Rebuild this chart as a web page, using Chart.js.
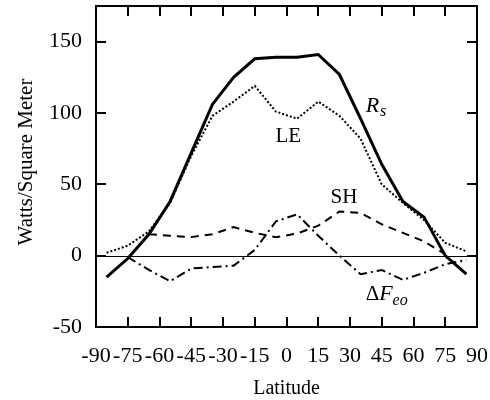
<!DOCTYPE html>
<html>
<head>
<meta charset="utf-8">
<script src="https://cdn.jsdelivr.net/npm/chart.js@4"></script>
<style>
  html, body { margin: 0; padding: 0; background: #fff; }
  #chart { display: block; }
</style>
</head>
<body>
<canvas id="chart" width="490" height="400"></canvas>
<script>
// zonal mean energy fluxes vs latitude (W/m^2)
const latitudes = [-85, -75, -65, -55, -45, -35, -25, -15, -5, 5, 15, 25, 35, 45, 55, 65, 75, 85];
const rsValues  = [-15, -2, 15, 38, 72, 106, 125, 138, 139, 139, 141, 127, 96, 64, 38, 27, 0, -13];
const leValues  = [2, 7, 17, 37, 70, 98, 108, 119, 101, 96, 108, 98, 82, 50, 37, 25, 9, 3];
const shValues  = [null, null, 15, 14, 13, 15, 20, 16, 13, 15.5, 21, 31, 30, 22, 16, 10, 1, null];
const feoValues = [null, -1, -10, -18, -9, -8, -7, 4, 24, 29, 14, 0, -13, -10, -17, -12, -6, -3];

const xTicks = [-90, -75, -60, -45, -30, -15, 0, 15, 30, 45, 60, 75, 90];
const yTicks = [-50, 0, 50, 100, 150];

const FONT = "'Liberation Serif', 'DejaVu Serif', serif";

function points(values) {
  return latitudes.map((lat, i) => ({ x: lat, y: values[i] }));
}

function line(values, width, dash) {
  return {
    data: points(values),
    borderColor: "#000",
    borderWidth: width,
    borderDash: dash,
    pointRadius: 0,
    fill: false,
    tension: 0,
    spanGaps: false,
  };
}

// frame, inward tick marks, zero line, titles and curve labels
const framePlugin = {
  id: "frame",
  afterDatasetsDraw(chart) {
    const { ctx, chartArea: a, scales } = chart;
    const xs = scales.x, ys = scales.y;
    ctx.save();
    ctx.strokeStyle = "#000";

    // zero line
    ctx.lineWidth = 1;
    const y0 = Math.round(ys.getPixelForValue(0)) + 0.5;
    ctx.beginPath();
    ctx.moveTo(a.left, y0);
    ctx.lineTo(a.right, y0);
    ctx.stroke();

    // box
    ctx.lineWidth = 2;
    ctx.strokeRect(a.left, a.top, a.right - a.left, a.bottom - a.top);

    // inward ticks
    const len = 10;
    ctx.beginPath();
    xTicks.slice(1, -1).forEach((v) => {
      const px = Math.round(xs.getPixelForValue(v));
      ctx.moveTo(px, a.bottom); ctx.lineTo(px, a.bottom - len);
      ctx.moveTo(px, a.top); ctx.lineTo(px, a.top + len);
    });
    yTicks.slice(1).forEach((v) => {
      const py = Math.round(ys.getPixelForValue(v));
      ctx.moveTo(a.left, py); ctx.lineTo(a.left + len, py);
      ctx.moveTo(a.right, py); ctx.lineTo(a.right - len, py);
    });
    ctx.stroke();

    ctx.fillStyle = "#000";
    // axis titles
    ctx.textAlign = "center";
    ctx.textBaseline = "middle";
    ctx.font = `20px ${FONT}`;
    ctx.fillText("Latitude", (a.left + a.right) / 2, 389);
    ctx.save();
    ctx.translate(26, 162);
    ctx.rotate(-Math.PI / 2);
    ctx.font = `21px ${FONT}`;
    ctx.fillText("Watts/Square Meter", 0, 0);
    ctx.restore();

    // curve labels
    ctx.textAlign = "left";
    ctx.textBaseline = "alphabetic";
    const at = (lat, val) => [xs.getPixelForValue(lat), ys.getPixelForValue(val)];

    let [px, py] = at(37.4, 101);
    ctx.font = `italic 22px ${FONT}`;
    ctx.fillText("R", px, py);
    let w = ctx.measureText("R").width;
    ctx.font = `italic 16px ${FONT}`;
    ctx.fillText("s", px + w + 1, py + 4);

    [px, py] = at(-5.2, 80);
    ctx.font = `21px ${FONT}`;
    ctx.fillText("LE", px, py);

    [px, py] = at(20.8, 37);
    ctx.fillText("SH", px, py);

    [px, py] = at(37.4, -31);
    ctx.font = `21px ${FONT}`;
    ctx.fillText("\u0394", px, py);
    w = ctx.measureText("\u0394").width;
    ctx.font = `italic 22px ${FONT}`;
    ctx.fillText("F", px + w, py);
    w += ctx.measureText("F").width;
    ctx.font = `italic 16px ${FONT}`;
    ctx.fillText("eo", px + w, py + 5);

    ctx.restore();
  },
};

function noEdgePadding(s) {
  s.paddingTop = 0;
  s.paddingBottom = 0;
  s.paddingLeft = 0;
  s.paddingRight = 0;
}

new Chart(document.getElementById("chart"), {
  type: "line",
  data: {
    datasets: [
      line(rsValues, 3, []),
      line(leValues, 2, [2, 2]),
      line(shValues, 2, [8, 6]),
      line(feoValues, 2, [9, 4, 2, 4]),
    ],
  },
  options: {
    responsive: false,
    animation: false,
    devicePixelRatio: 1,
    layout: { padding: { top: 6, right: 13, left: 0, bottom: 0 } },
    plugins: { legend: { display: false }, tooltip: { enabled: false } },
    scales: {
      x: {
        type: "linear",
        min: -90,
        max: 90,
        afterBuildTicks: (s) => { s.ticks = xTicks.map((v) => ({ value: v })); },
        afterFit: (s) => { s.height = 73; noEdgePadding(s); },
        ticks: {
          autoSkip: false,
          maxRotation: 0,
          padding: 16,
          color: "#000",
          font: { family: FONT, size: 22 },
        },
        grid: { display: false, drawTicks: false },
        border: { display: false },
      },
      y: {
        type: "linear",
        min: -50,
        max: 175,
        afterBuildTicks: (s) => { s.ticks = yTicks.map((v) => ({ value: v })); },
        afterFit: (s) => { s.width = 96; noEdgePadding(s); },
        ticks: {
          padding: 14,
          color: "#000",
          font: { family: FONT, size: 22 },
        },
        grid: { display: false, drawTicks: false },
        border: { display: false },
      },
    },
  },
  plugins: [framePlugin],
});
</script>
</body>
</html>
